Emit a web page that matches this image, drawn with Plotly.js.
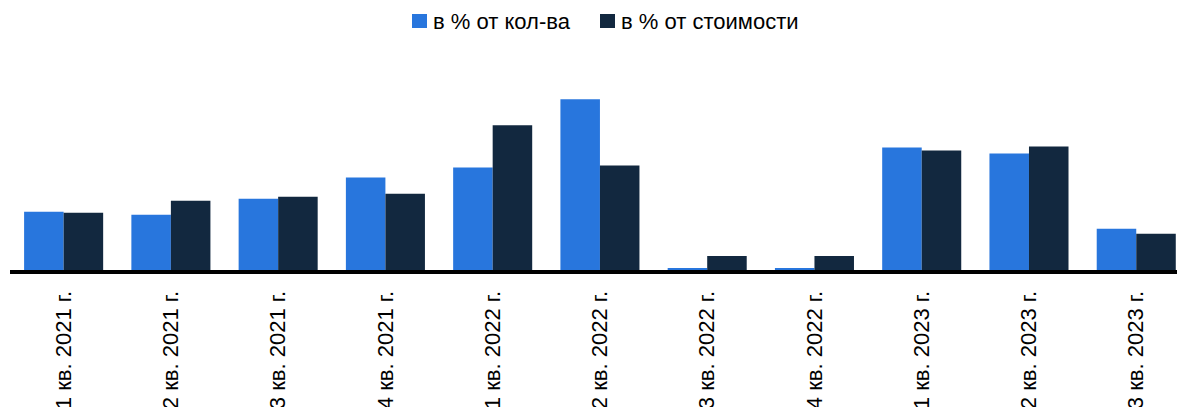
<!DOCTYPE html>
<html>
<head>
<meta charset="utf-8">
<script src="https://cdn.plot.ly/plotly-3.0.1.min.js"></script>
<style>html,body{margin:0;padding:0;background:#fff;}#chart{width:1177px;height:407px;}</style>
</head>
<body>
<div id="chart"></div>
<script>
const categories = ["1 кв. 2021 г.", "2 кв. 2021 г.", "3 кв. 2021 г.", "4 кв. 2021 г.", "1 кв. 2022 г.", "2 кв. 2022 г.", "3 кв. 2022 г.", "4 кв. 2022 г.", "1 кв. 2023 г.", "2 кв. 2023 г.", "3 кв. 2023 г."];
const seriesNames = ["в % от кол-ва", "в % от стоимости"];
const seriesColors = ["#2876DD", "#12283F"];
const byCount = [5.8, 5.5, 7.1, 9.2, 10.2, 17.0, 0.2, 0.2, 12.2, 11.6, 4.1];
const byValue = [5.7, 6.9, 7.3, 7.6, 14.4, 10.4, 1.4, 1.4, 11.9, 12.3, 3.6];

const W = 1177, H = 407;
const M = {l: 10, r: 0, t: 60, b: 137};
const pw = W - M.l - M.r, ph = H - M.t - M.b;
const px = x => (x - M.l) / pw;
const py = y => (H - M.b - y) / ph;

const idx = categories.map((_, i) => i);
const data = [
  {type: "bar", name: seriesNames[0], x: idx, y: byCount, marker: {color: seriesColors[0], line: {width: 0}}},
  {type: "bar", name: seriesNames[1], x: idx, y: byValue, marker: {color: seriesColors[1], line: {width: 0}}}
];

// manual legend (squares + labels)
const legendItems = [{sq: 412, tx: 431}, {sq: 600, tx: 619}];
const shapes = legendItems.map((it, i) => ({
  type: "rect", xref: "paper", yref: "paper",
  x0: px(it.sq), x1: px(it.sq + 15), y0: py(28), y1: py(14),
  fillcolor: seriesColors[i], line: {width: 0}
}));
const annotations = legendItems.map((it, i) => ({
  xref: "paper", yref: "paper", x: px(it.tx), y: py(21),
  xanchor: "left", yanchor: "middle", showarrow: false,
  text: seriesNames[i], font: {size: 22, color: "#000"}
}));

const layout = {
  width: W, height: H,
  margin: M,
  barmode: "group",
  bargap: 0.263,
  bargroupgap: 0,
  paper_bgcolor: "#fff", plot_bgcolor: "#fff",
  font: {family: "Liberation Sans, Arial, sans-serif", size: 22, color: "#000"},
  showlegend: false,
  shapes: shapes,
  annotations: annotations,
  xaxis: {
    tickmode: "array", tickvals: idx, ticktext: categories,
    tickangle: -90, range: [-0.5, 10.38], fixedrange: true, automargin: false,
    showline: true, linecolor: "#000", linewidth: 4,
    showgrid: false, zeroline: false, ticks: "", ticklabelstandoff: 8,
    tickfont: {size: 22, color: "#000"}
  },
  yaxis: {range: [0, 20.9], visible: false, showgrid: false, zeroline: false, fixedrange: true, automargin: false}
};
Plotly.newPlot("chart", data, layout, {displayModeBar: false, staticPlot: true});
</script>
</body>
</html>
